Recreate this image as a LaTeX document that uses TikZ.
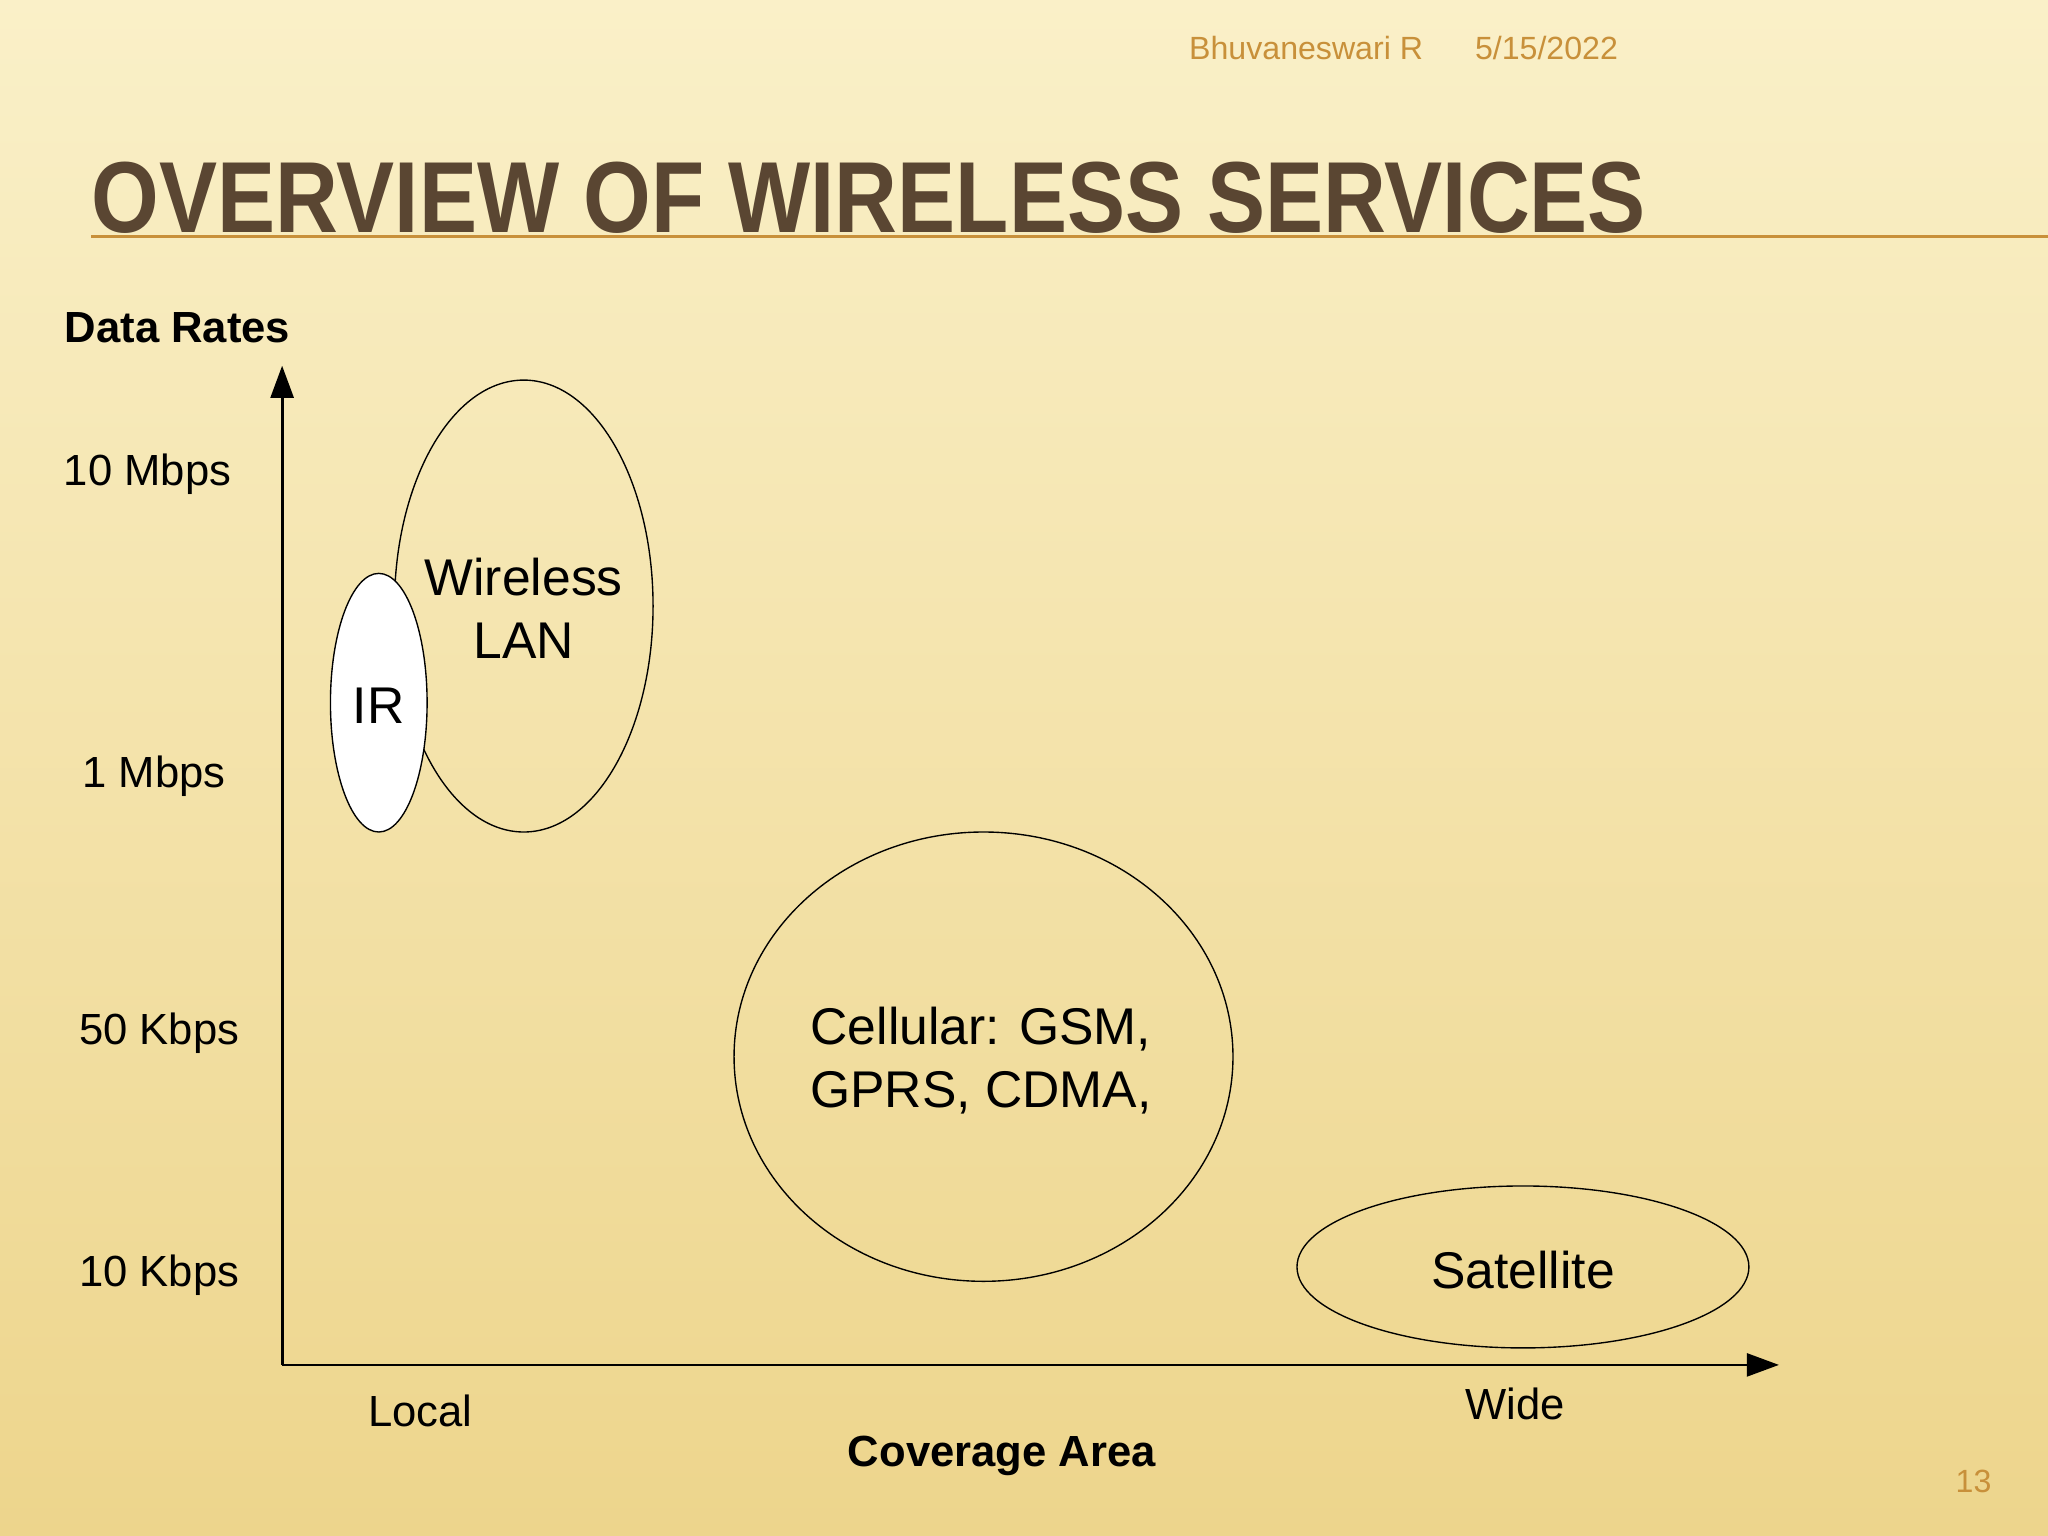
\documentclass[tikz,border=0pt]{standalone}
\usepackage{fontspec}
\setmainfont{Liberation Sans}
\usetikzlibrary{arrows.meta}
\definecolor{bgA}{HTML}{FAF0C8}
\definecolor{bgB}{HTML}{EDD58C}
\definecolor{ttl}{HTML}{5A4632}
\definecolor{hdr}{HTML}{C8903A}
\tikzset{lbl/.style={font=\fontsize{19}{22}\selectfont},
 bl/.style={font=\bfseries\fontsize{19}{22}\selectfont},
 big/.style={font=\fontsize{22.5}{27.5}\selectfont,align=center},
 ell/.style={draw=black,line width=0.6pt}}
\begin{document}
\begin{tikzpicture}[x=0.02cm,y=-0.02cm]
\useasboundingbox (0,0) rectangle (1568,1176);
\shade[top color=bgA,bottom color=bgB] (0,0) rectangle (1568,1176);
\node[font=\fontsize{14}{17}\selectfont,text=hdr] (h1) at (1000,37) {Bhuvaneswari R};
\node[font=\fontsize{14}{17}\selectfont,text=hdr] (h2) at (1184,37) {5/15/2022};
\draw[hdr,line width=1.2pt] (70,181) -- (1568,181);
\node[anchor=base west,text=ttl,font=\bfseries\fontsize{44}{50}\selectfont,xscale=0.862,inner sep=0] (t) at (70,178) {OVERVIEW OF WIRELESS SERVICES};
\coordinate (o) at (216,1045);
\coordinate (ytop) at (216,280);
\coordinate (xend) at (1362,1045);
\draw[line width=1.2pt,-{Triangle[length=14pt,width=10pt]}] (o) -- (ytop);
\draw[line width=1.2pt,-{Triangle[length=14pt,width=10pt]}] (o) -- (xend);
\draw[ell] (401,464) ellipse [x radius=99,y radius=173];
\draw[ell,fill=white] (290,538) ellipse [x radius=37,y radius=99];
\draw[ell] (753,809) ellipse [x radius=191,y radius=172];
\draw[ell] (1166,970) ellipse [x radius=173,y radius=62];
\node[big] (wl) at (401,466) {Wireless\\LAN};
\node[big] (ir) at (290,540) {IR};
\node[big] (ce) at (751,812) {Cellular: GSM,\\GPRS, CDMA,};
\node[big] (sa) at (1166,972) {Satellite};
\node[bl] (dr) at (136,251) {Data Rates};
\node[lbl] (a) at (113,363) {10 Mbps};
\node[lbl] (b) at (118,594) {1 Mbps};
\node[lbl] (c) at (122,791) {50 Kbps};
\node[lbl] (d) at (122,976) {10 Kbps};
\node[lbl] (lo) at (322,1080) {Local};
\node[lbl] (wi) at (1160,1075) {Wide};
\node[bl] (ca) at (767,1115) {Coverage Area};
\node[font=\fontsize{14}{17}\selectfont,text=hdr] (n) at (1511,1134) {13};
\end{tikzpicture}
\end{document}
